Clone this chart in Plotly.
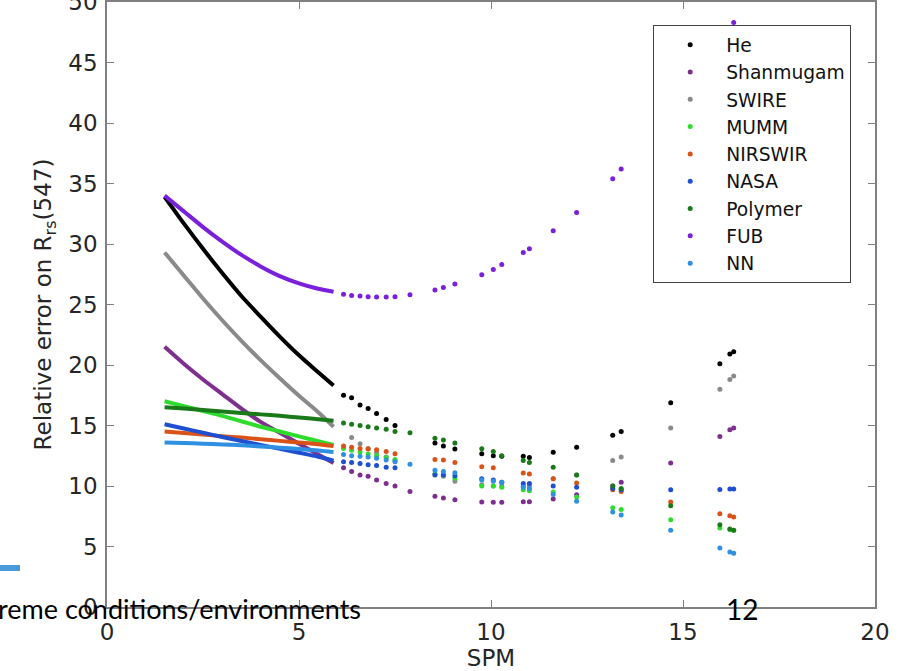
import plotly.graph_objects as go

# SPM sampling: dense run (drawn as a solid curve) and the sparse stations beyond it
SPM_DENSE = [1.5, 2.0, 2.5, 3.0, 3.5, 4.0, 4.5, 5.0, 5.5, 5.9]
SPM_SPARSE = [6.16, 6.37, 6.59, 6.80, 7.02, 7.27, 7.50, 7.89, 8.54, 8.76, 9.06,
              9.76, 10.06, 10.28, 10.84, 11.00, 11.62, 12.23, 13.17, 13.39,
              14.68, 15.96, 16.22, 16.32]

# Relative error (%) on Rrs(547) per atmospheric-correction scheme
HE_DENSE = [33.9, 31.7, 29.6, 27.6, 25.7, 24.0, 22.35, 20.8, 19.4, 18.3]
HE_SPARSE = [17.5, 17.3, 16.7, 16.4, 16.0, 15.5, 15.0, None, 13.55, 13.3, 13.05,
             12.66, 12.5, 12.45, 12.45, 12.35, 12.78, 13.2, 14.2, 14.5,
             16.87, 20.1, 20.9, 21.1]

SHAN_DENSE = [21.5, 20.1, 18.8, 17.6, 16.4, 15.3, 14.4, 13.5, 12.6, 11.9]
SHAN_SPARSE = [11.5, 11.2, 10.9, 10.8, 10.5, 10.2, 10.0, 9.55, 9.15, 9.0, 8.87,
               8.68, 8.65, 8.65, 8.7, 8.7, 8.93, 9.28, 10.0, 10.3,
               11.9, 14.1, 14.65, 14.8]

SWIRE_DENSE = [29.3, 27.4, 25.5, 23.7, 22.0, 20.4, 18.9, 17.45, 16.1, 14.9]
SWIRE_SPARSE = [None, 14.0, 13.5, 13.1, 12.75, 12.4, 12.1, None, 11.0, 10.8, 10.4,
                10.1, 10.0, 10.0, 10.0, 10.0, 10.6, 10.9, 12.1, 12.4,
                14.8, 18.0, 18.8, 19.1]

MUMM_DENSE = [17.0, 16.6, 16.2, 15.8, 15.35, 14.9, 14.5, 14.1, 13.7, 13.4]
MUMM_SPARSE = [13.1, 12.95, 12.8, 12.65, 12.5, 12.35, 12.2, None, 11.0, 10.9, 10.65,
               10.0, 10.0, 9.9, 9.7, 9.6, 9.5, 9.1, 8.2, 8.05,
               7.22, 6.53, 6.4, 6.35]

NIR_DENSE = [14.5, 14.38, 14.25, 14.12, 14.0, 13.87, 13.73, 13.6, 13.45, 13.3]
NIR_SPARSE = [13.3, 13.2, 13.1, 13.05, 13.0, 12.85, 12.66, None, 12.2, 12.15, 11.95,
              11.6, 11.5, None, 11.07, 11.0, 10.6, 10.25, 9.7, 9.55,
              8.68, 7.7, 7.55, 7.44]

NASA_DENSE = [15.1, 14.75, 14.4, 14.05, 13.72, 13.4, 13.07, 12.75, 12.42, 12.1]
NASA_SPARSE = [12.0, 11.95, 11.85, 11.75, 11.7, 11.55, 11.5, None, 10.9, 10.9, 10.85,
               10.6, 10.5, 10.3, 10.2, 10.2, 10.0, 9.9, 9.8, 9.7,
               9.7, 9.72, 9.75, 9.75]

POLY_DENSE = [16.5, 16.4, 16.28, 16.16, 16.04, 15.92, 15.8, 15.66, 15.52, 15.4]
POLY_SPARSE = [15.2, 15.1, 15.0, 14.9, 14.8, 14.7, 14.5, 14.4, 13.95, 13.8, 13.55,
               13.08, 12.85, 12.5, 12.1, 11.95, 11.55, 10.9, 10.0, 9.8,
               8.37, 6.8, 6.45, 6.34]

FUB_DENSE = [34.0, 32.7, 31.4, 30.2, 29.1, 28.15, 27.35, 26.75, 26.3, 26.05]
FUB_SPARSE = [25.85, 25.75, 25.7, 25.65, 25.62, 25.62, 25.65, 25.8, 26.2, 26.4, 26.7,
              27.45, 27.9, 28.3, 29.3, 29.6, 31.1, 32.6, 35.4, 36.2,
              None, None, None, 48.3]

NN_DENSE = [13.6, 13.55, 13.5, 13.44, 13.36, 13.27, 13.17, 13.06, 12.94, 12.8]
NN_SPARSE = [12.6, 12.5, 12.45, 12.4, 12.3, 12.15, 12.0, 11.8, 11.3, 11.2, 11.1,
             10.5, 10.4, 10.3, 9.9, 9.8, 9.3, 8.73, 7.85, 7.6,
             6.34, 4.88, 4.55, 4.44]

NAMES = ["He", "Shanmugam", "SWIRE", "MUMM", "NIRSWIR", "NASA", "Polymer", "FUB", "NN"]
COLORS = ["#000000", "#7E2F8E", "#8A8A8A", "#2EDC2E", "#D95319",
          "#1F4FD0", "#1A7A1A", "#7A1FDB", "#2F8FE0"]
DENSE = [HE_DENSE, SHAN_DENSE, SWIRE_DENSE, MUMM_DENSE, NIR_DENSE,
         NASA_DENSE, POLY_DENSE, FUB_DENSE, NN_DENSE]
SPARSE = [HE_SPARSE, SHAN_SPARSE, SWIRE_SPARSE, MUMM_SPARSE, NIR_SPARSE,
          NASA_SPARSE, POLY_SPARSE, FUB_SPARSE, NN_SPARSE]

AXIS_FONT = "DejaVu Sans"
AXIS_GRAY = "#808080"
TEXT_GRAY = "#262626"

fig = go.Figure()
for name, color, dense, sparse in zip(NAMES, COLORS, DENSE, SPARSE):
    fig.add_trace(go.Scatter(
        x=SPM_DENSE, y=dense, mode="lines",
        line=dict(color=color, width=4, shape="spline", smoothing=0.8),
        showlegend=False, hoverinfo="skip",
    ))
    fig.add_trace(go.Scatter(
        x=SPM_SPARSE, y=sparse, mode="markers", name=name,
        marker=dict(color=color, size=5),
    ))

axis_common = dict(
    showline=True, linecolor=AXIS_GRAY, linewidth=1.5, mirror="ticks",
    ticks="inside", ticklen=7, tickcolor=AXIS_GRAY, tickwidth=1.2,
    showgrid=False, zeroline=False, ticklabeloverflow="allow", automargin=False,
    tickfont=dict(family=AXIS_FONT, size=23, color=TEXT_GRAY),
)

fig.update_layout(
    width=904, height=671,
    margin=dict(l=107, r=29, t=2, b=64),
    paper_bgcolor="white", plot_bgcolor="white",
    xaxis=dict(range=[0, 20], tickvals=[0, 5, 10, 15, 20], ticklabelstandoff=4,
               title=dict(text="SPM", font=dict(family=AXIS_FONT, size=23, color=TEXT_GRAY),
                          standoff=6),
               **axis_common),
    yaxis=dict(range=[0, 50], tickvals=list(range(0, 51, 5)), ticklabelstandoff=3,
               title=dict(text="Relative error on R<sub>rs</sub>(547)",
                          font=dict(family=AXIS_FONT, size=23, color=TEXT_GRAY),
                          standoff=10),
               **axis_common),
    legend=dict(
        x=0.969, xanchor="right", y=0.962, yanchor="top",
        bgcolor="white", bordercolor="#444444", borderwidth=1,
        font=dict(family=AXIS_FONT, size=18.7, color="#111111"),
        itemwidth=62, tracegroupgap=0,
    ),
    showlegend=True,
)

# slide elements layered over the chart
fig.add_shape(type="rect", xref="paper", yref="paper",
              x0=-107 / 768, x1=-87 / 768, y0=36 / 605, y1=42 / 605,
              fillcolor="#4A9BD9", line=dict(width=0))
fig.add_annotation(text="reme conditions/environments", xref="paper", yref="paper",
                   x=256 / 768, y=-2 / 605, xanchor="right", yanchor="middle",
                   showarrow=False, font=dict(family="Lato", size=27, color="black"))
fig.add_annotation(text="12", xref="paper", yref="paper",
                   x=634.5 / 768, y=-2 / 605, xanchor="center", yanchor="middle",
                   showarrow=False, font=dict(family="Lato", size=28, color="black"))

fig.write_html("out.html")
